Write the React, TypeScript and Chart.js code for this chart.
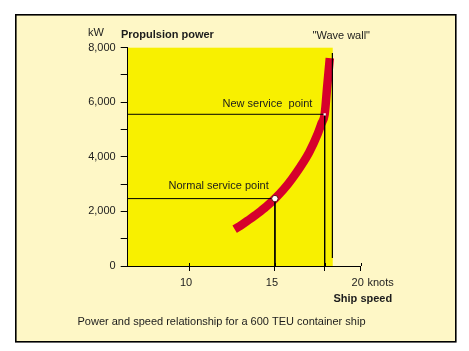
import React, { useEffect, useRef } from 'react';
import { Chart, registerables } from 'chart.js';

Chart.register(...registerables);

// ---- Data ----
const speedKnots = [12.65, 13.0, 13.5, 14.0, 14.5, 15.0, 15.5, 16.0, 16.5, 17.0, 17.5, 17.7, 17.9, 18.05, 18.2];
const powerKW = [1350, 1480, 1700, 1930, 2180, 2470, 2800, 3200, 3650, 4170, 4850, 5200, 5560, 6600, 7620];

const xTickValues = [10, 15, 17.9, 20];
const xTickLabels = ['10', '15', '', '20'];
const yTickValues = [0, 1000, 2000, 3000, 4000, 5000, 6000, 7000, 8000];
const yTickLabels = ['0', '', '2,000', '', '4,000', '', '6,000', '', '8,000'];

const normalSpeed = 15;
const normalPower = 2470;
const newSpeed = 17.9;
const newPower = 5560;
const waveWallSpeed = 18.35;
const waveWallPowerRange = [290, 7810];

const xMin = 6.42;
const xMax = 20;
const yMin = 0;
const yMax = 8000;
const yellowMaxSpeed = 18.37;

const FONT = '"Liberation Sans", Arial, Helvetica, sans-serif';
const TEXT = '#1c1c1c';
const RED = '#d6002c';
const YELLOW = '#f8f000';
const CREAM = '#fef7c6';

const decorPlugin = {
  id: 'decor',
  beforeDraw(chart: any) {
    const { ctx, scales } = chart;
    const x = scales.x;
    const y = scales.y;
    ctx.save();
    ctx.fillStyle = '#ffffff';
    ctx.fillRect(0, 0, chart.width, chart.height);
    ctx.fillStyle = CREAM;
    ctx.fillRect(15, 14, 441, 328);
    ctx.strokeStyle = '#000';
    ctx.lineWidth = 1.6;
    ctx.strokeRect(15.8, 14.8, 440, 327);
    const l = x.getPixelForValue(xMin);
    const r = x.getPixelForValue(yellowMaxSpeed);
    const t = y.getPixelForValue(yMax);
    const b = y.getPixelForValue(yMin);
    ctx.fillStyle = YELLOW;
    ctx.fillRect(l, t, r - l, b - t);
    ctx.restore();
  },
  afterDraw(chart: any) {
    const { ctx, scales } = chart;
    const x = scales.x;
    const y = scales.y;
    ctx.save();
    // small upward part of the x tick marks
    ctx.strokeStyle = '#000';
    ctx.lineWidth = 1;
    const base = y.getPixelForValue(yMin);
    xTickValues.forEach((v) => {
      const px = Math.round(x.getPixelForValue(v)) + 0.5;
      ctx.beginPath();
      ctx.moveTo(px, base - 3);
      ctx.lineTo(px, base);
      ctx.stroke();
    });

    ctx.fillStyle = TEXT;
    ctx.textBaseline = 'middle';
    ctx.textAlign = 'left';
    ctx.font = `11px ${FONT}`;
    ctx.fillText('kW', 88, 33);
    ctx.fillText('"Wave wall"', 312.5, 36);
    ctx.fillText('New service  point', 222.5, 103.5);
    ctx.fillText('Normal service point', 168.5, 186);
    ctx.fillText('knots', 367.5, 282.5);
    ctx.fillText('Power and speed relationship for a 600 TEU container ship', 77.5, 322);
    ctx.font = `bold 11px ${FONT}`;
    ctx.fillText('Propulsion power', 121, 35);
    ctx.fillText('Ship speed', 333.5, 299);
    ctx.restore();
  },
};

export default function App() {
  const canvasRef = useRef<HTMLCanvasElement | null>(null);

  useEffect(() => {
    if (!canvasRef.current) return;
    const chart = new Chart(canvasRef.current, {
      type: 'scatter',
      data: {
        datasets: [
          {
            label: 'Service points',
            data: [
              { x: normalSpeed, y: normalPower },
              { x: newSpeed, y: newPower },
            ],
            pointRadius: [3.2, 1.6],
            pointStyle: ['circle', 'rect'],
            pointBackgroundColor: '#ffffff',
            pointBorderColor: ['#5a1010', '#ffffff'],
            pointBorderWidth: [1, 0],
            showLine: false,
            order: 0,
          } as any,
          {
            label: 'Normal service guide',
            data: [
              { x: xMin, y: normalPower },
              { x: normalSpeed, y: normalPower },
              { x: normalSpeed, y: yMin },
            ],
            showLine: true,
            borderColor: '#000',
            borderWidth: 1,
            pointRadius: 0,
            tension: 0,
            order: 1,
          },
          {
            label: 'New service guide',
            data: [
              { x: xMin, y: newPower },
              { x: newSpeed, y: newPower },
              { x: newSpeed, y: yMin },
            ],
            showLine: true,
            borderColor: '#000',
            borderWidth: 1,
            pointRadius: 0,
            tension: 0,
            order: 1,
          },
          {
            label: 'Wave wall',
            data: [
              { x: waveWallSpeed, y: waveWallPowerRange[0] },
              { x: waveWallSpeed, y: waveWallPowerRange[1] },
            ],
            showLine: true,
            borderColor: '#000',
            borderWidth: 1.2,
            pointRadius: 0,
            tension: 0,
            order: 1,
          },
          {
            label: 'Propulsion power',
            data: speedKnots.map((s, i) => ({ x: s, y: powerKW[i] })),
            showLine: true,
            borderColor: RED,
            borderWidth: 8.5,
            borderCapStyle: 'butt',
            borderJoinStyle: 'round',
            cubicInterpolationMode: 'monotone',
            pointRadius: 0,
            order: 2,
          } as any,
        ],
      },
      options: {
        animation: false,
        responsive: false,
        devicePixelRatio: 1,
        layout: { padding: { left: 87.7, top: 47.7, right: 108.3, bottom: 55 } },
        plugins: { legend: { display: false }, tooltip: { enabled: false } },
        scales: {
          x: {
            type: 'linear',
            min: xMin,
            max: xMax,
            afterBuildTicks: (s: any) => {
              s.ticks = xTickValues.map((v) => ({ value: v }));
            },
            afterFit: (s: any) => {
              s.height = 30;
            },
            grid: { display: true, drawOnChartArea: false, drawTicks: true, tickLength: 5, color: '#000', lineWidth: 1 },
            border: { display: true, color: '#000', width: 1 },
            ticks: {
              autoSkip: false,
              maxRotation: 0,
              padding: 5,
              labelOffset: -3,
              color: TEXT,
              font: { family: FONT, size: 11 },
              callback: (_v: any, i: number) => xTickLabels[i],
            },
          },
          y: {
            type: 'linear',
            min: yMin,
            max: yMax,
            afterBuildTicks: (s: any) => {
              s.ticks = yTickValues.map((v) => ({ value: v }));
            },
            afterFit: (s: any) => {
              s.width = 40;
            },
            grid: { display: true, drawOnChartArea: false, drawTicks: true, tickLength: 7, color: '#000', lineWidth: 1 },
            border: { display: true, color: '#000', width: 1 },
            ticks: {
              autoSkip: false,
              padding: 5,
              color: TEXT,
              font: { family: FONT, size: 11 },
              callback: (_v: any, i: number) => yTickLabels[i],
            },
          },
        },
      },
      plugins: [decorPlugin],
    });
    return () => chart.destroy();
  }, []);

  return (
    <div style={{ position: 'absolute', left: 0, top: 0, width: 469, height: 351 }}>
      <canvas ref={canvasRef} width={469} height={351} style={{ width: 469, height: 351, display: 'block' }} />
    </div>
  );
}
